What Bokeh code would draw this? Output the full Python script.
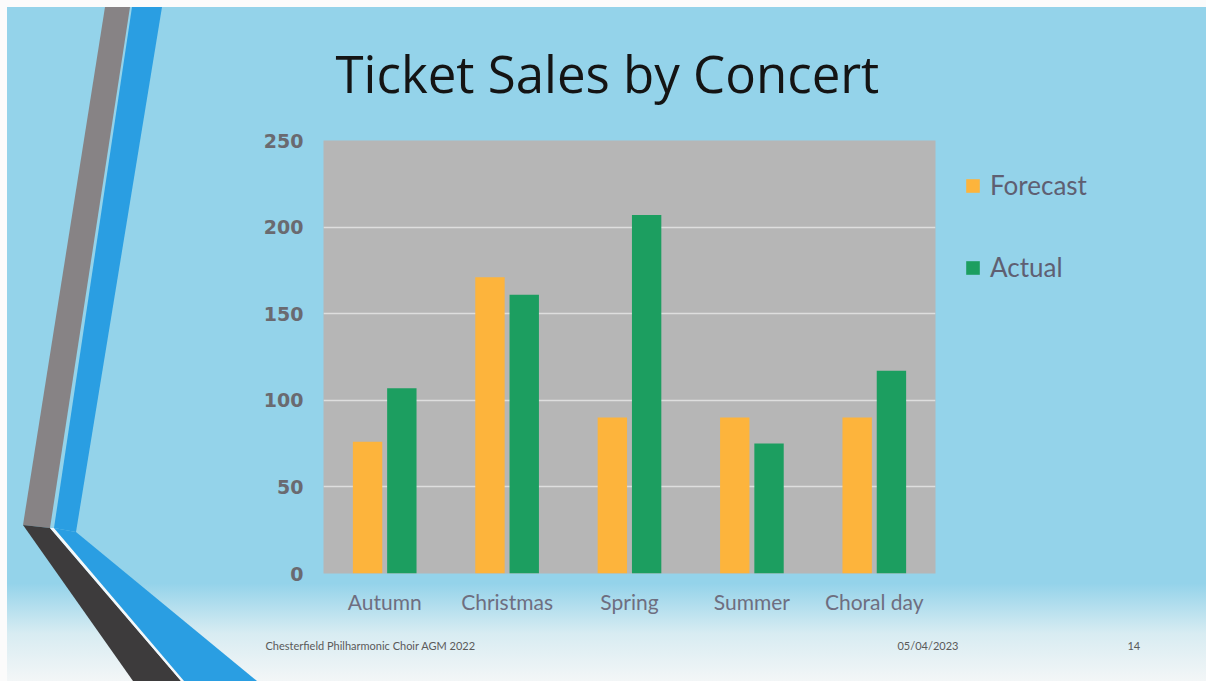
from urllib.parse import quote
from bokeh.plotting import figure
from bokeh.models import (ColumnDataSource, FactorRange, Range1d, Legend, LegendItem, Title)
from bokeh.transform import dodge
from bokeh.embed import file_html
from bokeh.resources import INLINE

# ---- data ----
categories = ["Autumn", "Christmas", "Spring", "Summer", "Choral day"]
forecast = [76, 171, 90, 90, 90]
actual = [107, 161, 207, 75, 117]
y_ticks = [0, 50, 100, 150, 200, 250]
series_names = ["Forecast", "Actual"]
title_text = "Ticket Sales by Concert"
footer_left = "Chesterfield Philharmonic Choir AGM 2022"
footer_date = "05/04/2023"
footer_page = "14"

BG = "#94d3ea"
ORANGE = "#fdb43c"
GREEN = "#1c9e60"
STRIPE_BLUE = "#2a9ee2"

W, H = 1206, 681

# slide background (white scan edge, blue, fade at bottom, left stripes) as a CSS image
def pts(lst):
    return " ".join(f"{x},{y}" for x, y in lst)

bg_svg = (
    f'<svg xmlns="http://www.w3.org/2000/svg" width="{W}" height="{H}" viewBox="0 0 {W} {H}">'
    '<defs><linearGradient id="g" x1="0" y1="0" x2="0" y2="1">'
    f'<stop offset="0" stop-color="{BG}"/><stop offset="0.855" stop-color="{BG}"/>'
    '<stop offset="0.93" stop-color="#d8ecf2"/><stop offset="1" stop-color="#f3f6f7"/>'
    '</linearGradient></defs>'
    f'<rect width="{W}" height="{H}" fill="#fbfbfb"/>'
    f'<rect x="7" y="7" width="{W - 7}" height="{H - 7}" fill="url(#g)"/>'
    f'<polygon points="{pts([(105,7),(130,7),(50,528),(23,525)])}" fill="#878385"/>'
    f'<polygon points="{pts([(132,7),(162,7),(76,532),(54,528)])}" fill="{STRIPE_BLUE}"/>'
    f'<polygon points="{pts([(23,525),(50,528),(181,681),(133,681)])}" fill="#3d3b3c"/>'
    f'<polygon points="{pts([(50,528),(54,528),(184,681),(181,681)])}" fill="#f4f8fa"/>'
    f'<polygon points="{pts([(54,528),(76,532),(257,681),(184,681)])}" fill="{STRIPE_BLUE}"/>'
    '</svg>'
)

p = figure(width=W, height=H, output_backend="svg", toolbar_location=None,
           x_range=FactorRange(*categories, range_padding=0),
           y_range=Range1d(0, 250),
           min_border_left=323, min_border_right=W - 935,
           min_border_top=140, min_border_bottom=H - 573,
           frame_width=612, frame_height=433)
p.styles = {"background-image": f'url("data:image/svg+xml,{quote(bg_svg)}")',
            "background-size": f"{W}px {H}px",
            "background-repeat": "no-repeat",
            "background-position": "0px 0px",
            "background-color": BG}
p.background_fill_color = "#b6b6b6"
p.border_fill_alpha = 0
p.outline_line_color = None

p.title.text = title_text
p.title.align = "left"
p.title.offset = 12
p.title.text_font = "Open Sans"
p.title.text_font_size = "51px"
p.title.text_font_style = "normal"
p.title.text_color = "#141414"
p.title.standoff = 65

src = ColumnDataSource(dict(cat=categories, forecast=forecast, actual=actual))
r1 = p.vbar(x=dodge("cat", -0.14, range=p.x_range), top="forecast", width=0.24,
            source=src, color=ORANGE, line_color=None)
r2 = p.vbar(x=dodge("cat", 0.14, range=p.x_range), top="actual", width=0.24,
            source=src, color=GREEN, line_color=None)

# axes
p.yaxis.ticker = y_ticks
p.yaxis.axis_line_color = None
p.yaxis.major_tick_line_color = None
p.yaxis.minor_tick_line_color = None
p.yaxis.major_label_text_font = "DejaVu Sans"
p.yaxis.major_label_text_font_style = "bold"
p.yaxis.major_label_text_font_size = "19px"
p.yaxis.major_label_text_color = "#6a6a70"
p.yaxis.major_label_standoff = 14

p.xaxis.axis_line_color = None
p.xaxis.major_tick_line_color = None
p.xaxis.major_label_text_font = "Lato"
p.xaxis.major_label_text_font_size = "21px"
p.xaxis.major_label_text_color = "#6e6e80"
p.xaxis.major_label_standoff = 9

p.xgrid.grid_line_color = None
p.ygrid.grid_line_color = "#e8e8e8"
p.ygrid.grid_line_width = 1.5
p.ygrid.grid_line_alpha = 0.8

# legend in right panel
legend = Legend(items=[LegendItem(label=series_names[0], renderers=[r1]),
                       LegendItem(label=series_names[1], renderers=[r2])],
                location="top_left", orientation="vertical",
                glyph_width=17, glyph_height=17, label_standoff=9,
                label_height=26, spacing=50, padding=0, margin=29,
                border_line_color=None, background_fill_alpha=0,
                label_text_font="Lato", label_text_font_size="26px",
                label_text_color="#5f5f72")
p.add_layout(legend, "right")

# footer line (one row: left text, date, page number)
NB = "\u00a0"
footer_text = footer_left + NB * 150 + footer_date + NB * 60 + footer_page
p.add_layout(Title(text=footer_text, align="left", offset=-58, standoff=40,
                   text_font="Lato", text_font_size="11px", text_font_style="normal",
                   text_color="#5a5a5a"), "below")

open("out.html", "w").write(file_html(p, INLINE))
